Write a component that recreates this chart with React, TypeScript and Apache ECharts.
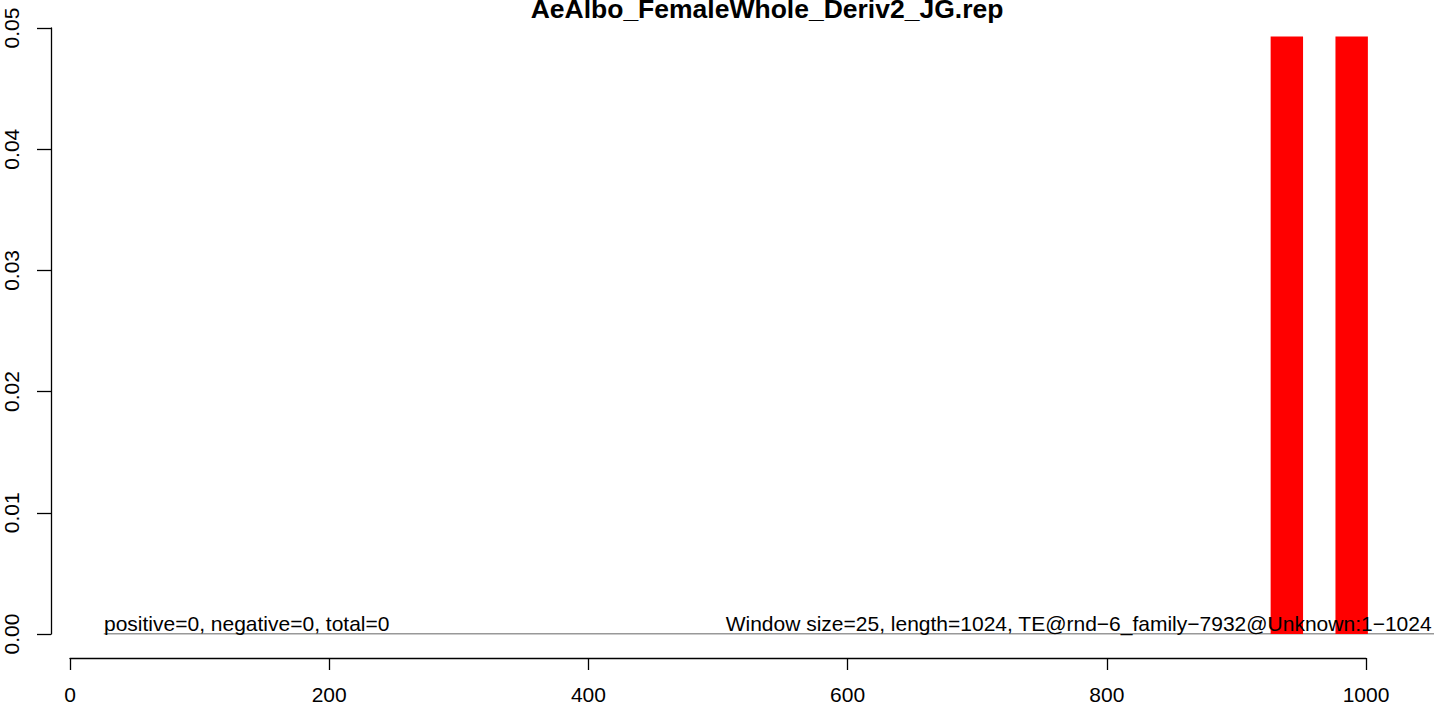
import React, { useEffect, useRef } from "react";
import * as echarts from "echarts";

const titleText = "AeAlbo_FemaleWhole_Deriv2_JG.rep";
const barStart = [926, 976];
const barEnd = [951, 1001];
const barValue = [0.0493, 0.0493];
const baseLineX = [26, 1052];
const baseLineY = [0, 0];
const leftNote = "positive=0, negative=0, total=0";
const rightNote = "Window size=25, length=1024, TE@rnd\u22126_family\u22127932@Unknown:1\u22121024";

const FONT = "'Liberation Sans', Arial, sans-serif";
const FS = 21;

export default function App() {
  const ref = useRef<HTMLDivElement>(null);
  useEffect(() => {
    if (!ref.current) return;
    const chart = echarts.init(ref.current, undefined, { renderer: "svg" });
    const bars = barStart.map((s, i) => [s, barEnd[i], barValue[i]]);
    chart.setOption({
      animation: false,
      backgroundColor: "#ffffff",
      textStyle: { fontFamily: FONT },
      title: {
        text: titleText,
        left: 762,
        textAlign: "center",
        top: -10,
        textStyle: { fontFamily: FONT, fontWeight: "bold", fontSize: 26.5, color: "#000" },
      },
      grid: [
        { left: 51, right: 10, top: 28, bottom: 75 },
        { left: 70, width: 1296, top: 600, height: 58 },
      ],
      xAxis: [
        {
          gridIndex: 0,
          type: "value",
          min: -14.7,
          max: 1052,
          show: false,
        },
        {
          gridIndex: 1,
          type: "value",
          min: 0,
          max: 1000,
          interval: 200,
          position: "bottom",
          axisLine: { show: true, onZero: false, lineStyle: { color: "#000", width: 1.3 } },
          axisTick: { show: true, length: 12, lineStyle: { color: "#000", width: 1.3 } },
          axisLabel: {
            margin: 26,
            fontSize: FS,
            color: "#000",
            fontFamily: FONT,
            formatter: (v: number) => String(v),
          },
          splitLine: { show: false },
        },
      ],
      yAxis: [
        {
          gridIndex: 0,
          type: "value",
          min: 0,
          max: 0.05,
          interval: 0.01,
          axisLine: { show: true, onZero: false, lineStyle: { color: "#000", width: 1.3 } },
          axisTick: { show: true, length: 14, lineStyle: { color: "#000", width: 1.3 } },
          axisLabel: {
            rotate: 90,
            margin: 29,
            fontSize: FS,
            color: "#000",
            fontFamily: FONT,
            formatter: (v: number) => v.toFixed(2),
          },
          splitLine: { show: false },
        },
        {
          gridIndex: 1,
          type: "value",
          show: false,
        },
      ],
      series: [
        {
          type: "line",
          xAxisIndex: 0,
          yAxisIndex: 0,
          data: baseLineX.map((x, i) => [x, baseLineY[i]]),
          symbol: "none",
          lineStyle: { color: "#333", width: 1 },
          z: 1,
        },
        {
          type: "custom",
          xAxisIndex: 0,
          yAxisIndex: 0,
          data: bars,
          z: 3,
          renderItem: (params: any, api: any) => {
            const p0 = api.coord([api.value(0), 0]);
            const p1 = api.coord([api.value(1), api.value(2)]);
            return {
              type: "rect",
              shape: { x: p0[0], y: p1[1], width: p1[0] - p0[0], height: p0[1] - p1[1] },
              style: { fill: "#ff0000" },
            };
          },
        },
      ],
      graphic: [
        {
          type: "text",
          left: 104,
          top: 613,
          z: 100,
          style: { text: leftNote, fill: "#000", font: `${FS}px ${FONT}` },
        },
        {
          type: "text",
          right: 12,
          top: 613,
          z: 100,
          style: { text: rightNote, fill: "#000", font: `${FS}px ${FONT}` },
        },
      ],
    });
    return () => chart.dispose();
  }, []);
  return (
    <div
      ref={ref}
      style={{ position: "fixed", left: 0, top: 0, width: 1444, height: 709, background: "#fff" }}
    />
  );
}
